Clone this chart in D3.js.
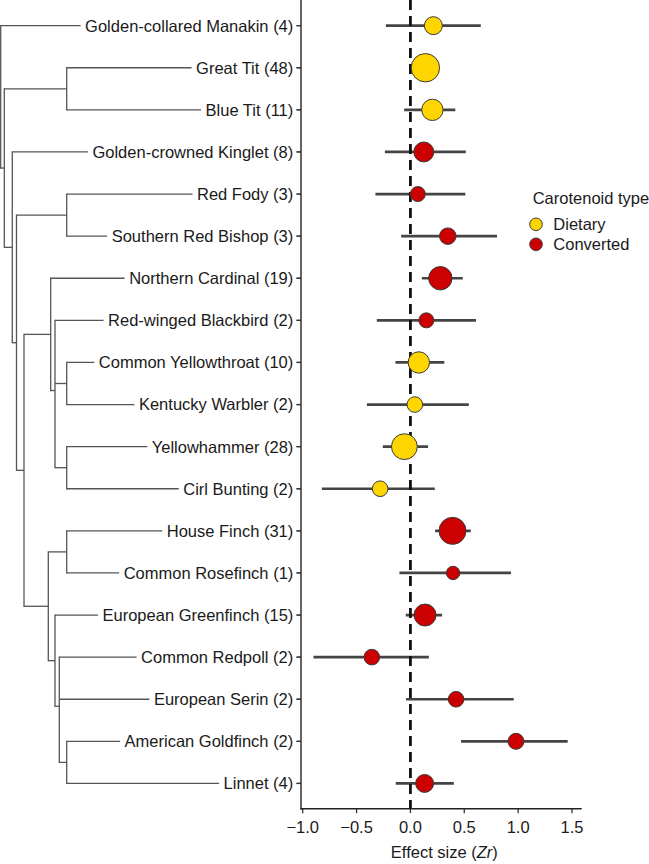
<!DOCTYPE html>
<html>
<head>
<meta charset="utf-8">
<script src="https://cdn.jsdelivr.net/npm/d3@7"></script>
<style>
  html, body { margin: 0; padding: 0; background: #fff; }
  svg { display: block; font-family: "Liberation Sans", Arial, Helvetica, sans-serif; }
</style>
</head>
<body>
<svg id="chart" width="649" height="864"></svg>
<script>
// ---------------- data ----------------
const species = [
  "Golden-collared Manakin", "Great Tit", "Blue Tit", "Golden-crowned Kinglet",
  "Red Fody", "Southern Red Bishop", "Northern Cardinal", "Red-winged Blackbird",
  "Common Yellowthroat", "Kentucky Warbler", "Yellowhammer", "Cirl Bunting",
  "House Finch", "Common Rosefinch", "European Greenfinch", "Common Redpoll",
  "European Serin", "American Goldfinch", "Linnet"
];
const nStudies = [4, 48, 11, 8, 3, 3, 19, 2, 10, 2, 28, 2, 31, 1, 15, 2, 2, 2, 4];
const carotenoidType = [
  "Dietary", "Dietary", "Dietary", "Converted", "Converted", "Converted", "Converted",
  "Converted", "Dietary", "Dietary", "Dietary", "Dietary", "Converted", "Converted",
  "Converted", "Converted", "Converted", "Converted", "Converted"
];
const effectZr = [0.213, 0.139, 0.204, 0.124, 0.069, 0.347, 0.278, 0.148, 0.078, 0.041,
                  -0.056, -0.281, 0.391, 0.396, 0.136, -0.358, 0.424, 0.98, 0.132];
const ciLow  = [-0.228, 0.04, -0.058, -0.237, -0.325, -0.086, 0.106, -0.312, -0.139, -0.404,
                -0.256, -0.822, 0.229, -0.102, -0.043, -0.90, -0.04, 0.47, -0.136];
const ciHigh = [0.653, 0.24, 0.417, 0.514, 0.51, 0.804, 0.486, 0.609, 0.315, 0.542,
                0.164, 0.226, 0.56, 0.934, 0.294, 0.171, 0.959, 1.46, 0.403];
const pointWeight = [90, 216, 125, 110, 64, 77, 149, 64, 125, 69, 180, 69, 196, 52, 132, 69, 69, 72, 90];
const xTicks = [-1.0, -0.5, 0.0, 0.5, 1.0, 1.5];
const typeLevels = ["Dietary", "Converted"];
const typeColors = ["#FFD500", "#CC0000"];

// phylogeny (node depth from root, tips at 100)
const tree = {d: 0, c: [
  {leaf: 0},
  {d: 1.2, c: [
    {d: 21.98, c: [{leaf: 1}, {leaf: 2}]},
    {d: 3.86, c: [
      {leaf: 3},
      {d: 5.26, c: [
        {d: 21.98, c: [{leaf: 4}, {leaf: 5}]},
        {d: 7.76, c: [
          {d: 16.65, c: [
            {leaf: 6},
            {d: 18.08, c: [
              {leaf: 7},
              {d: 21.98, c: [{leaf: 8}, {leaf: 9}]},
              {d: 21.98, c: [{leaf: 10}, {leaf: 11}]}
            ]}
          ]},
          {d: 15.85, c: [
            {d: 21.98, c: [{leaf: 12}, {leaf: 13}]},
            {d: 18.08, c: [
              {leaf: 14},
              {d: 19.51, c: [
                {leaf: 15}, {leaf: 16},
                {d: 21.98, c: [{leaf: 17}, {leaf: 18}]}
              ]}
            ]}
          ]}
        ]}
      ]}
    ]}
  ]}
]};

// ---------------- layout ----------------
const panel = {left: 301, right: 581.7, top: 0.4, bottom: 808.7};
const svg = d3.select("#chart");

const x = d3.scaleLinear().domain([-1.0, 1.5]).range([302.7, 572]);
const y = d3.scaleBand().domain(species).range([panel.top, panel.bottom]).paddingOuter(0.1).paddingInner(0);
const yc = s => y(s) + y.bandwidth() / 2;
const r = d3.scaleSqrt().domain([0, d3.max(pointWeight)]).range([0, 14.7]);
const color = d3.scaleOrdinal().domain(typeLevels).range(typeColors);
const tx = d3.scaleLinear().domain([0, 100]).range([0.7, panel.left]);

// ---------------- tree ----------------
const root = d3.hierarchy(tree, d => d.c);
root.eachAfter(n => {
  if (n.data.leaf !== undefined) { n.px = tx(100); n.py = yc(species[n.data.leaf]); }
  else { n.px = tx(n.data.d); n.py = d3.mean(n.children, c => c.py); }
});
const gTree = svg.append("g").attr("stroke", "#555").attr("stroke-width", 1.3).attr("fill", "none");
root.descendants().forEach(n => {
  if (n.parent) {
    gTree.append("line").attr("x1", n.parent.px).attr("x2", n.px).attr("y1", n.py).attr("y2", n.py);
  }
  if (n.children) {
    const ys = n.children.map(c => c.py);
    gTree.append("line").attr("x1", n.px).attr("x2", n.px)
      .attr("y1", d3.min(ys) - 0.65).attr("y2", d3.max(ys) + 0.65);
  }
});

// tip labels with white background
const gLab = svg.append("g");
species.forEach((s, i) => {
  const g = gLab.append("g");
  const bg = g.append("rect").attr("fill", "#fff");
  const t = g.append("text")
    .attr("x", 293.3).attr("y", yc(s)).attr("dy", "0.36em")
    .attr("text-anchor", "end").attr("font-size", 16.5).attr("fill", "#1a1a1a")
    .text(`${s} (${nStudies[i]})`);
  const bb = t.node().getBBox();
  bg.attr("x", bb.x - 4.5).attr("y", yc(s) - 11).attr("width", 296.5 - (bb.x - 4.5)).attr("height", 22);
});

// ---------------- axes ----------------
const gAxes = svg.append("g");
gAxes.append("line").attr("x1", panel.left).attr("x2", panel.left)
  .attr("y1", 0).attr("y2", panel.bottom + 0.7).attr("stroke", "#222").attr("stroke-width", 1.4);
gAxes.append("line").attr("x1", panel.left - 0.7).attr("x2", panel.right)
  .attr("y1", panel.bottom).attr("y2", panel.bottom).attr("stroke", "#222").attr("stroke-width", 1.4);
// y ticks
species.forEach(s => {
  gAxes.append("line").attr("x1", panel.left - 4.5).attr("x2", panel.left)
    .attr("y1", yc(s)).attr("y2", yc(s)).attr("stroke", "#333").attr("stroke-width", 1.3);
});
// x ticks
xTicks.forEach(v => {
  gAxes.append("line").attr("x1", x(v)).attr("x2", x(v))
    .attr("y1", panel.bottom).attr("y2", panel.bottom + 4.5).attr("stroke", "#333").attr("stroke-width", 1.3);
  gAxes.append("text").attr("x", x(v)).attr("y", 833)
    .attr("text-anchor", "middle").attr("font-size", 16.5).attr("fill", "#1a1a1a")
    .text(d3.format(".1f")(v).replace("-", "\u2212"));
});
const title = gAxes.append("text").attr("x", (panel.left + panel.right) / 2 + 3).attr("y", 858)
  .attr("text-anchor", "middle").attr("font-size", 16.5).attr("fill", "#1a1a1a");
title.append("tspan").text("Effect size (");
title.append("tspan").attr("font-style", "italic").text("Zr");
title.append("tspan").text(")");

// ---------------- forest plot ----------------
const gBars = svg.append("g");
species.forEach((s, i) => {
  gBars.append("line").attr("x1", x(ciLow[i])).attr("x2", x(ciHigh[i]))
    .attr("y1", yc(s)).attr("y2", yc(s)).attr("stroke", "#444").attr("stroke-width", 2.7);
});
svg.append("line").attr("x1", x(0)).attr("x2", x(0)).attr("y1", 0).attr("y2", panel.bottom)
  .attr("stroke", "#111").attr("stroke-width", 2.8).attr("stroke-dasharray", "10,6");
const gPts = svg.append("g");
species.forEach((s, i) => {
  gPts.append("circle").attr("cx", x(effectZr[i])).attr("cy", yc(s)).attr("r", r(pointWeight[i]) - 0.5)
    .attr("fill", color(carotenoidType[i])).attr("stroke", "#3a3a3a").attr("stroke-width", 1);
});

// ---------------- legend ----------------
const gLeg = svg.append("g");
gLeg.append("text").attr("x", 532.7).attr("y", 204.3).attr("font-size", 16.5).attr("fill", "#1a1a1a")
  .text("Carotenoid type");
typeLevels.forEach((t, i) => {
  const cy = 224.3 + i * 20;
  gLeg.append("circle").attr("cx", 536).attr("cy", cy).attr("r", 6.3)
    .attr("fill", color(t)).attr("stroke", "#3a3a3a").attr("stroke-width", 1);
  gLeg.append("text").attr("x", 553.3).attr("y", cy).attr("dy", "0.36em")
    .attr("font-size", 16.5).attr("fill", "#1a1a1a").text(t);
});
</script>
</body>
</html>
